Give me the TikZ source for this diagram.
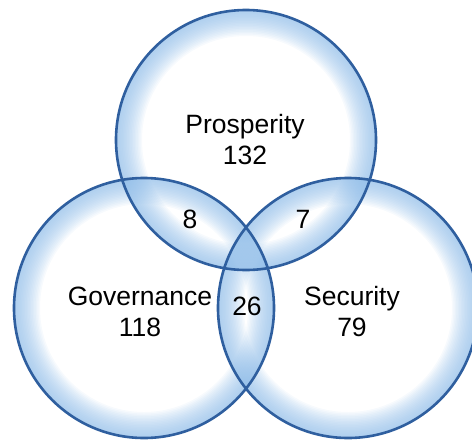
\documentclass[tikz,border=0pt]{standalone}
\usepackage{fontspec}
\setmainfont{Liberation Sans}

\definecolor{ringblue}{HTML}{2F5F9F}
\definecolor{rimblue}{HTML}{8FBCE8}

\begin{document}
\begin{tikzpicture}[x=1pt,y=-1pt]

\tikzset{rim/.style = {fill=rimblue,fill opacity=0.07,even odd rule}}
\tikzset{ring/.style = {draw=ringblue,line width=2.6pt}}
\tikzset{lbl/.style = {align=center,font=\fontsize{26.5}{31}\selectfont}}
\useasboundingbox (0,0) rectangle (472,440);
%circles
\coordinate (prosp) at (246,140);
\coordinate (gov) at (144,308);
\coordinate (sec) at (348,308);
\foreach \c in {prosp,gov,sec}
  \foreach \r in {104,105.5,...,129}
    \fill[rim] (\c) circle (130) circle (\r);
\foreach \c in {prosp,gov,sec}
  \draw[ring] (\c) circle (130);
%labels
\node[lbl] (prosplbl) at (245,140) {Prosperity\\132};
\node[lbl] (govlbl) at (140,312) {Governance\\118};
\node[lbl] (seclbl) at (352,312) {Security\\79};
\node[lbl] (pg) at (190,219) {8};
\node[lbl] (ps) at (303,219) {7};
\node[lbl] (all) at (247,306) {26};

\end{tikzpicture}
\end{document}
